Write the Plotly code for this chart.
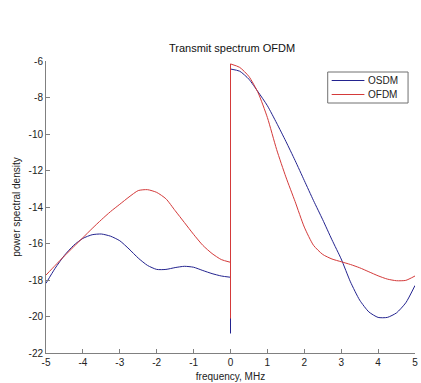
import plotly.graph_objects as go

# Frequency grid (MHz)
freq_left = [-5, -4.75, -4.5, -4.25, -4, -3.75, -3.5, -3.25, -3, -2.75, -2.5, -2.25,
             -2, -1.75, -1.5, -1.25, -1, -0.75, -0.5, -0.25, 0]
freq_right = [0, 0.25, 0.5, 0.75, 1.0, 1.25, 1.5, 1.75, 2.0, 2.25, 2.5, 2.75,
              3.0, 3.25, 3.5, 3.75, 4.0, 4.25, 4.5, 4.75, 5.0]

osdm_left = [-18.18, -17.35, -16.65, -16.1, -15.72, -15.52, -15.48, -15.6, -15.85,
             -16.3, -16.8, -17.2, -17.42, -17.42, -17.32, -17.25, -17.3, -17.48,
             -17.65, -17.78, -17.85]
ofdm_left = [-17.73, -17.2, -16.68, -16.18, -15.68, -15.18, -14.7, -14.25, -13.85,
             -13.45, -13.1, -13.05, -13.2, -13.55, -14.2, -14.85, -15.5, -16.1,
             -16.55, -16.88, -17.03]

osdm_right = [-6.44, -6.56, -7.0, -7.7, -8.45, -9.4, -10.4, -11.45, -12.55, -13.65,
              -14.7, -15.8, -16.85, -18.1, -19.1, -19.75, -20.05, -20.05, -19.8,
              -19.25, -18.3]
ofdm_right = [-6.16, -6.35, -6.85, -7.75, -9.1, -10.85, -12.35, -13.7, -15.1, -16.1,
              -16.6, -16.85, -17.0, -17.15, -17.33, -17.55, -17.77, -17.95, -18.04,
              -18.02, -17.78]

osdm_dc = -20.92
ofdm_dc = -20.1

x_ticks = [-5, -4, -3, -2, -1, 0, 1, 2, 3, 4, 5]
y_ticks = [-22, -20, -18, -16, -14, -12, -10, -8, -6]

series_names = ["OSDM", "OFDM"]
BLUE = "#23238f"
RED = "#d43a3a"

fig = go.Figure()


def add_series(name, color, fl, vl, dc, fr, vr):
    fig.add_trace(go.Scatter(x=fl, y=vl, mode="lines", name=name, legendgroup=name,
                             line=dict(color=color, width=1, shape="spline", smoothing=0.6)))
    fig.add_trace(go.Scatter(x=[fl[-1], 0, fr[0]], y=[vl[-1], dc, vr[0]], mode="lines",
                             name=name, legendgroup=name, showlegend=False,
                             line=dict(color=color, width=1)))
    fig.add_trace(go.Scatter(x=fr, y=vr, mode="lines", name=name, legendgroup=name,
                             showlegend=False,
                             line=dict(color=color, width=1, shape="spline", smoothing=0.6)))


add_series(series_names[0], BLUE, freq_left, osdm_left, osdm_dc, freq_right, osdm_right)
add_series(series_names[1], RED, freq_left, ofdm_left, ofdm_dc, freq_right, ofdm_right)

axis_common = dict(
    showline=True, linecolor="#808080", linewidth=1, mirror=False,
    ticks="inside", ticklen=4, tickcolor="#808080", tickwidth=1,
    showgrid=False, zeroline=False, ticklabeloverflow="allow",
    tickfont=dict(family="Liberation Sans, Arial", size=10, color="#222222"),
)

# plot area in pixels
L, R, T, B = 46, 418, 61, 353
W, H = R - L, B - T


def px(x):
    return (x - L) / W


def py(y):
    return (B - y) / H


# Legend box (drawn as shapes + text)
shapes = [
    dict(type="rect", xref="paper", yref="paper", x0=px(330), x1=px(411), y0=py(103), y1=py(72),
         line=dict(color="#707070", width=1), fillcolor="white", layer="above"),
    dict(type="line", xref="paper", yref="paper", x0=px(334), x1=px(367), y0=py(80.5), y1=py(80.5),
         line=dict(color=BLUE, width=1), layer="above"),
    dict(type="line", xref="paper", yref="paper", x0=px(334), x1=px(367), y0=py(94.5), y1=py(94.5),
         line=dict(color=RED, width=1), layer="above"),
]
annotations = [
    dict(xref="paper", yref="paper", x=px(369), y=py(80.5), text=series_names[0], showarrow=False,
         xanchor="left", yanchor="middle", font=dict(size=10, color="#222222")),
    dict(xref="paper", yref="paper", x=px(369), y=py(94.5), text=series_names[1], showarrow=False,
         xanchor="left", yanchor="middle", font=dict(size=10, color="#222222")),
]

fig.update_layout(
    width=421, height=383,
    margin=dict(l=L, r=421 - R, t=T, b=383 - B),
    paper_bgcolor="white", plot_bgcolor="white",
    font=dict(family="Liberation Sans, Arial", size=10, color="#222222"),
    title=dict(text="Transmit spectrum OFDM", x=(L + W / 2) / 421, xanchor="center",
               y=1 - 48 / 383, yanchor="middle", yref="container",
               font=dict(size=11, color="#111111")),
    xaxis=dict(range=[-5, 5], tickvals=x_ticks, ticktext=[str(v) for v in x_ticks],
               title=dict(text="frequency, MHz", standoff=5,
                          font=dict(size=10, color="#222222")),
               **axis_common),
    yaxis=dict(range=[-22, -6], tickvals=y_ticks, ticktext=[str(v) for v in y_ticks],
               title=dict(text="power spectral density", standoff=6,
                          font=dict(size=10, color="#222222")),
               **axis_common),
    shapes=shapes,
    annotations=annotations,
    showlegend=False,
)

fig.write_html("out.html")
